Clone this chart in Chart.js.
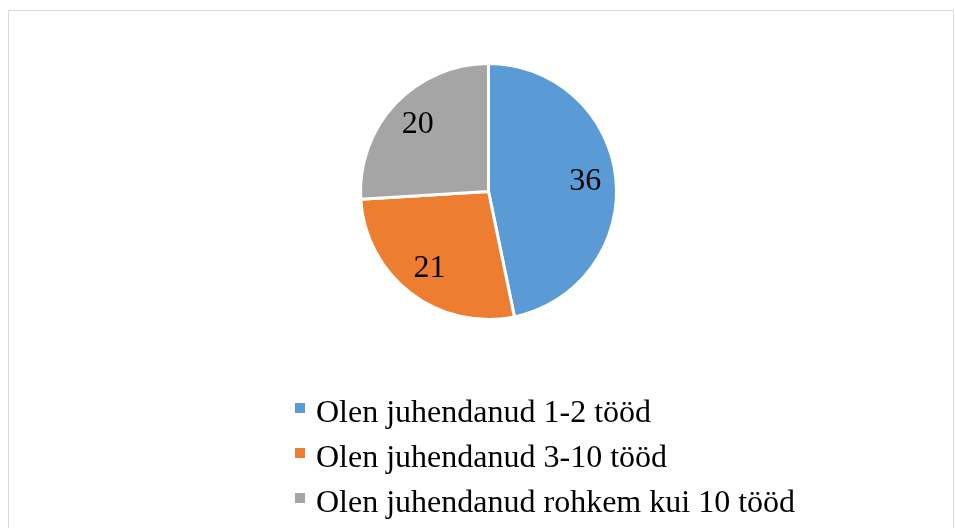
<!DOCTYPE html>
<html>
<head>
<meta charset="utf-8">
<script src="https://cdn.jsdelivr.net/npm/chart.js@4.4.1/dist/chart.umd.min.js"></script>
<style>
body{margin:0;background:#fff;}
#wrap{position:relative;width:955px;height:528px;overflow:hidden;}
#frame{position:absolute;left:8px;top:10px;width:946px;height:540px;border:1px solid #d9d9d9;box-sizing:border-box;}
canvas{position:absolute;left:0;top:0;}
</style>
</head>
<body>
<div id="wrap">
<div id="frame"></div>
<canvas id="pieChart" width="955" height="528"></canvas>
</div>
<script>

// data

let labels = ["Olen juhendanud 1-2 tööd", "Olen juhendanud 3-10 tööd", "Olen juhendanud rohkem kui 10 tööd"];
let values = [36, 21, 20];
let colors = ["#5B9BD5", "#ED7D31", "#A5A5A5"];

let font = "32px 'Liberation Serif', 'Times New Roman', serif";

// value labels inside slices

let valueLabels = {
id: "valueLabels",
afterDatasetsDraw(chart){
let ctx = chart.ctx;
let meta = chart.getDatasetMeta(0);
ctx.save();
ctx.font = font;
ctx.fillStyle = "#000";
ctx.textAlign = "center";
ctx.textBaseline = "middle";
meta.data.forEach((arc, i) => {
let p = arc.getProps(["x","y","startAngle","endAngle","outerRadius"], true);
let mid = (p.startAngle + p.endAngle) / 2;
let r = p.outerRadius * 0.76;
ctx.fillText(String(chart.data.datasets[0].data[i]), p.x + Math.cos(mid) * r, p.y + Math.sin(mid) * r);
});
ctx.restore();
}
};

// legend below the pie, one item per row

let listLegend = {
id: "listLegend",
afterDraw(chart){
let ctx = chart.ctx;
ctx.save();
ctx.font = font;
ctx.textBaseline = "alphabetic";
ctx.textAlign = "left";
chart.data.labels.forEach((text, i) => {
let y = 422 + i * 45;
ctx.fillStyle = colors[i];
ctx.fillRect(295, y - 19, 10, 10);
ctx.fillStyle = "#000";
ctx.fillText(text, 316, y);
});
ctx.restore();
}
};

let ctx = document.getElementById("pieChart").getContext("2d");

new Chart(ctx, {
type: "pie",
data: {
labels: labels,
datasets: [{
data: values,
backgroundColor: colors,
borderColor: "#ffffff",
borderWidth: 3
}]
},
options: {
responsive: false,
animation: false,
layout: {
padding: {top: 62, bottom: 207, left: 359, right: 337}
},
plugins: {
legend: {display: false},
tooltip: {enabled: false}
}
},
plugins: [valueLabels, listLegend]
});

</script>
</body>
</html>
